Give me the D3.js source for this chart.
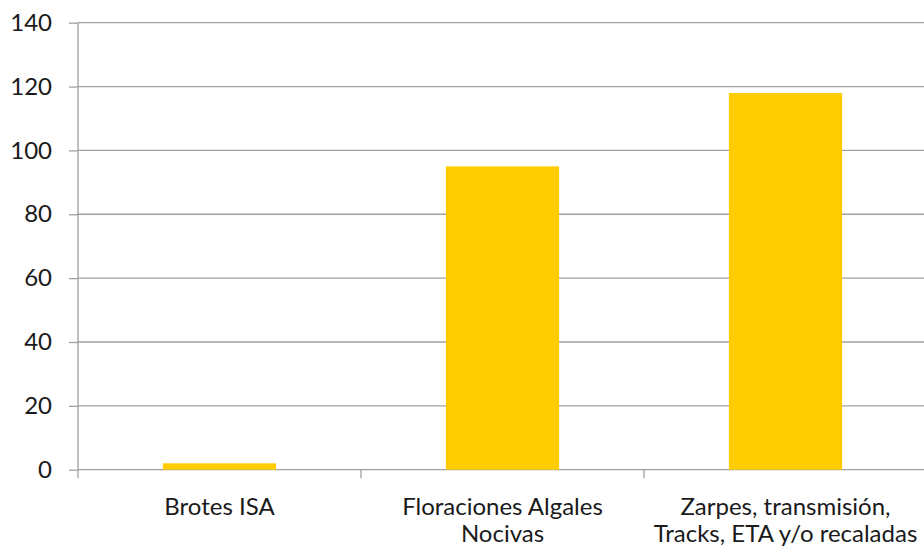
<!DOCTYPE html>
<html>
<head>
<meta charset="utf-8">
<script src="https://cdn.jsdelivr.net/npm/d3@7"></script>
<style>
  body { margin: 0; background: #fff; }
  svg { display: block; }
</style>
</head>
<body>
<div id="chart"></div>
<script>
// Chart data
const categories = ["Brotes ISA", "Floraciones Algales Nocivas", "Zarpes, transmisión, Tracks, ETA y/o recaladas"];
const categoryLines = [["Brotes ISA"], ["Floraciones Algales", "Nocivas"], ["Zarpes, transmisión,", "Tracks, ETA y/o recaladas"]];
const values = [2, 95, 118];
const yTicks = [0, 20, 40, 60, 80, 100, 120, 140];

const W = 924, H = 548;
const margin = { top: 22.7, left: 78 };
const plotW = 849;   // runs a little past the right edge, as in the original
const plotH = 447;

const svg = d3.select("#chart")
  .append("svg")
  .attr("width", W)
  .attr("height", H);

const font = 'Lato, "Liberation Sans", Arial, sans-serif';
const gridColor = "#a0a0a0";

// Scales
const x = d3.scaleBand()
  .domain(categories)
  .range([margin.left, margin.left + plotW])
  .paddingInner(0.6)
  .paddingOuter(0.3);

const y = d3.scaleLinear()
  .domain([0, 140])
  .range([margin.top + plotH, margin.top]);

// Gridlines
svg.append("g")
  .selectAll("line")
  .data(yTicks)
  .enter()
  .append("line")
  .attr("x1", margin.left)
  .attr("x2", W)
  .attr("y1", d => y(d))
  .attr("y2", d => y(d))
  .attr("stroke", gridColor)
  .attr("stroke-width", 1.3);

// Bars
svg.append("g")
  .selectAll("rect")
  .data(values)
  .enter()
  .append("rect")
  .attr("x", (d, i) => x(categories[i]))
  .attr("y", d => y(d))
  .attr("width", x.bandwidth())
  .attr("height", d => y(0) - y(d))
  .attr("fill", "#FFCC00");

// Y axis
const yAxis = svg.append("g")
  .attr("transform", "translate(" + margin.left + ",0)")
  .call(d3.axisLeft(y).tickValues(yTicks).tickSize(9).tickSizeOuter(0).tickPadding(17));
yAxis.select(".domain").remove();
yAxis.selectAll(".tick line").attr("stroke", gridColor).attr("stroke-width", 1.3);
yAxis.selectAll("text")
  .style("font-family", font)
  .style("font-size", "24px")
  .attr("fill", "#1a1a1a");

// Y axis line, extends a bit below zero
svg.append("line")
  .attr("x1", margin.left)
  .attr("x2", margin.left)
  .attr("y1", y(140))
  .attr("y2", y(0) + 8.5)
  .attr("stroke", gridColor)
  .attr("stroke-width", 1.3);

// X axis tick marks between categories
svg.append("g")
  .selectAll("line")
  .data(categories.slice(1))
  .enter()
  .append("line")
  .attr("x1", d => x(d) - x.bandwidth() * 0.75)
  .attr("x2", d => x(d) - x.bandwidth() * 0.75)
  .attr("y1", y(0))
  .attr("y2", y(0) + 8.5)
  .attr("stroke", gridColor)
  .attr("stroke-width", 1.3);

// Category labels
const labels = svg.append("g")
  .selectAll("text")
  .data(categories)
  .enter()
  .append("text")
  .attr("x", d => x(d) + x.bandwidth() / 2)
  .attr("y", y(0) + 45)
  .attr("text-anchor", "middle")
  .style("font-family", font)
  .style("font-size", "24px")
  .attr("fill", "#1a1a1a");

labels.each(function(d, i) {
  const t = d3.select(this);
  categoryLines[i].forEach((line, j) => {
    t.append("tspan")
      .attr("x", x(d) + x.bandwidth() / 2)
      .attr("dy", j === 0 ? 0 : 27)
      .text(line);
  });
});
</script>
</body>
</html>
